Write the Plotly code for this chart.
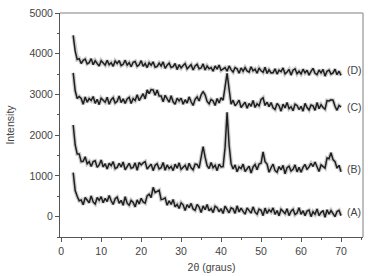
import numpy as np
import plotly.graph_objects as go

# 2theta grid: 3.0 .. 70.0 deg, step 0.5
theta_start = 3.0
theta_step = 0.5

A = [1080, 640, 500, 390, 410, 290, 470, 410, 340, 510,
     360, 310, 470, 400, 490, 340, 450, 370, 520, 390,
     300, 440, 480, 330, 400, 280, 490, 330, 280, 400,
     350, 240, 410, 310, 450, 360, 330, 510, 550, 470,
     720, 590, 620, 650, 420, 430, 460, 280, 390, 300,
     420, 240, 300, 200, 340, 290, 150, 295, 220, 325,
     190, 155, 300, 235, 100, 265, 170, 300, 145, 200,
     100, 255, 220, 120, 195, 75, 260, 160, 95, 215,
     190, 80, 265, 115, 210, 130, 60, 215, 155, 85,
     240, 110, 60, 185, 155, 25, 210, 80, 170, 115,
     215, 55, 150, 20, 180, 130, 75, 195, 25, 135,
     180, 50, 90, 220, 55, 145, 25, 135, 160, 0,
     120, 60, 190, 25, 105, 145, -15, 170, 60, 150,
     70, 0, 125, 155, 25]

B = [2250, 1760, 1540, 1540, 1350, 1360, 1470, 1300, 1350, 1230,
     1350, 1370, 1210, 1270, 1390, 1220, 1300, 1170, 1310, 1250,
     1350, 1180, 1210, 1310, 1220, 1340, 1150, 1250, 1310, 1190,
     1210, 1320, 1140, 1330, 1270, 1320, 1350, 1170, 1220, 1290,
     1130, 1260, 1300, 1170, 1200, 1330, 1140, 1270, 1180, 1230,
     1130, 1290, 1190, 1320, 1160, 1210, 1260, 1140, 1310, 1200,
     1150, 1290, 1280, 1190, 1500, 1720, 1460, 1250, 1180, 1330,
     1200, 1260, 1130, 1290, 1220, 1230, 1700, 2560, 1760, 1300,
     1170, 1270, 1100, 1220, 1180, 1290, 1110, 1170, 1240, 1070,
     1220, 1280, 1150, 1290, 1310, 1590, 1350, 1290, 1090, 1200,
     1290, 1130, 1090, 1230, 1150, 1260, 1050, 1200, 1240, 1120,
     1160, 1270, 1100, 1210, 1090, 1210, 1280, 1160, 1220, 1310,
     1230, 1340, 1230, 1110, 1270, 1220, 1190, 1440, 1420, 1570,
     1400, 1350, 1190, 1260, 1100]

C = [3530, 3090, 2900, 2950, 2900, 2760, 2940, 2810, 2900, 2850,
     2950, 2780, 2880, 2750, 2910, 2860, 2810, 2930, 2760, 2870,
     2920, 2790, 2830, 2960, 2800, 2890, 2780, 2890, 2930, 2780,
     2900, 2850, 2990, 2850, 2950, 3020, 2890, 3110, 3020, 3120,
     3110, 2980, 3110, 2960, 2960, 2820, 2980, 2900, 2810, 2970,
     2820, 2760, 2910, 2840, 2910, 2760, 2870, 2790, 2940, 2820,
     2730, 2880, 2940, 2840, 2990, 3070, 2990, 2830, 2770, 2880,
     2840, 2730, 2900, 2790, 2920, 2860, 3150, 3520, 3130, 2760,
     2860, 2720, 2780, 2860, 2680, 2740, 2810, 2660, 2780, 2710,
     2850, 2680, 2770, 2720, 2880, 2920, 2730, 2810, 2700, 2800,
     2670, 2630, 2780, 2720, 2590, 2760, 2670, 2800, 2650, 2700,
     2600, 2760, 2730, 2630, 2710, 2590, 2780, 2680, 2620, 2740,
     2720, 2610, 2800, 2650, 2750, 2680, 2640, 2850, 2840, 2870,
     2860, 2710, 2610, 2730, 2690]

D = [4450, 4060, 3860, 3880, 3760, 3840, 3870, 3750, 3780, 3880,
     3730, 3830, 3760, 3700, 3830, 3780, 3720, 3840, 3730, 3780,
     3690, 3820, 3760, 3830, 3710, 3740, 3840, 3720, 3780, 3680,
     3790, 3810, 3690, 3730, 3830, 3690, 3760, 3660, 3780, 3720,
     3800, 3670, 3690, 3770, 3700, 3800, 3640, 3720, 3770, 3660,
     3680, 3760, 3610, 3730, 3650, 3710, 3760, 3630, 3680, 3730,
     3600, 3700, 3740, 3630, 3650, 3750, 3600, 3700, 3630, 3660,
     3570, 3700, 3620, 3720, 3590, 3620, 3660, 3570, 3700, 3610,
     3550, 3660, 3630, 3520, 3650, 3570, 3660, 3580, 3550, 3680,
     3580, 3620, 3520, 3650, 3580, 3545, 3670, 3515, 3605, 3530,
     3535, 3630, 3500, 3595, 3560, 3650, 3505, 3550, 3615, 3475,
     3595, 3630, 3510, 3570, 3505, 3620, 3530, 3595, 3475, 3565,
     3640, 3520, 3485, 3600, 3530, 3615, 3450, 3570, 3600, 3500,
     3530, 3620, 3485, 3570, 3470]

series = {"(A)": A, "(B)": B, "(C)": C, "(D)": D}
label_y = {"(A)": 120, "(B)": 1160, "(C)": 2690, "(D)": 3600}

fig = go.Figure()
for name, vals in series.items():
    x = theta_start + theta_step * np.arange(len(vals))
    # soft grey halo under the trace (noise band look)
    fig.add_trace(go.Scatter(x=x, y=vals, mode="lines", hoverinfo="skip",
                             line=dict(color="rgba(0,0,0,0.2)", width=4),
                             showlegend=False))
    fig.add_trace(go.Scatter(x=x, y=vals, mode="lines", name=name,
                             line=dict(color="#202020", width=1.5),
                             showlegend=False))
    fig.add_annotation(x=71.0, y=label_y[name], text=name, showarrow=False,
                       xanchor="left", yanchor="middle",
                       font=dict(size=10.5, color="#444"))

axis_font = dict(family="Liberation Sans, Arial, sans-serif", size=10.5, color="#444")

fig.update_xaxes(range=[-0.3, 75.5], tickvals=[0, 10, 20, 30, 40, 50, 60, 70],
                 ticks="outside", ticklen=4, tickcolor="#555", showline=True,
                 linecolor="#555", linewidth=1, showgrid=False, zeroline=False,
                 minor=dict(ticks="outside", ticklen=2, dtick=5, tick0=0, tickcolor="#555"),
                 tickfont=axis_font,
                 title=dict(text="2θ (graus)", font=axis_font, standoff=8))
fig.update_yaxes(range=[-500, 5000], tickvals=[0, 1000, 2000, 3000, 4000, 5000],
                 ticks="outside", ticklen=4, tickcolor="#555", showline=True,
                 linecolor="#555", linewidth=1, showgrid=False, zeroline=False,
                 minor=dict(ticks="outside", ticklen=2, dtick=500, tick0=0, tickcolor="#555"),
                 tickfont=axis_font,
                 title=dict(text="Intensity", font=axis_font, standoff=12))

# light grey frame on top and right
fig.add_shape(type="line", xref="paper", yref="paper", x0=0, x1=1, y0=1, y1=1,
              line=dict(color="#aaa", width=1.5))
fig.add_shape(type="line", xref="paper", yref="paper", x0=1, x1=1, y0=0, y1=1,
              line=dict(color="#aaa", width=1.5))

fig.update_layout(width=368, height=276, margin=dict(l=60, r=5, t=13, b=39),
                  plot_bgcolor="white", paper_bgcolor="white",
                  font=dict(family="Liberation Sans, Arial, sans-serif"))

fig.write_html("out.html")
